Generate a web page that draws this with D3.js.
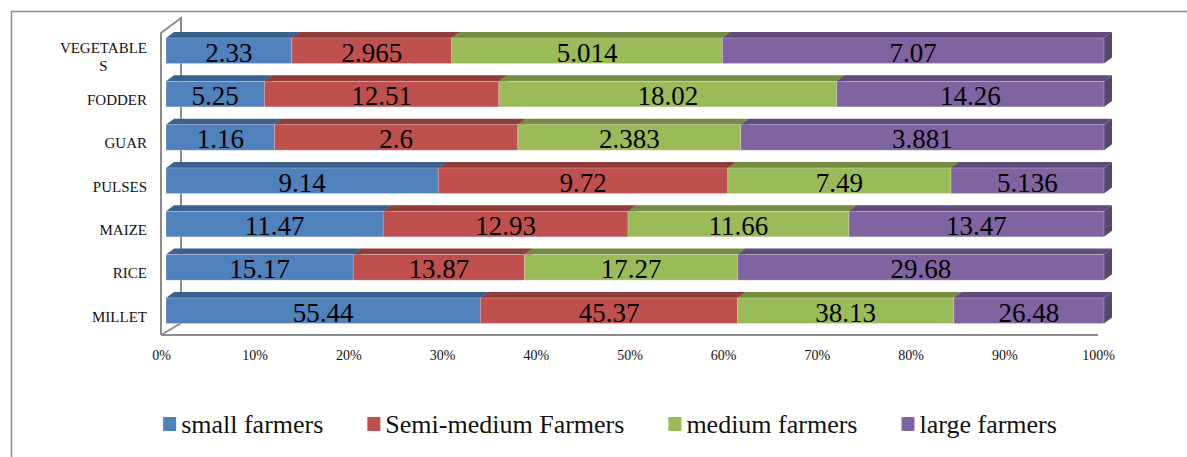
<!DOCTYPE html>
<html>
<head>
<meta charset="utf-8">
<script src="https://cdn.jsdelivr.net/npm/d3@7"></script>
<style>
  html, body { margin: 0; padding: 0; background: #fff; }
  svg { display: block; }
  svg text { font-family: 'Liberation Serif', 'Times New Roman', serif !important; }
</style>
</head>
<body>
<svg id="chart" width="1187" height="457" font-family="Liberation Serif"></svg>
<script>
// 100% stacked 3D-look bar chart: crop area by farmer size class.

const categories = ['VEGETABLES', 'FODDER', 'GUAR', 'PULSES', 'MAIZE', 'RICE', 'MILLET'];
const seriesNames = ['small farmers', 'Semi-medium Farmers', 'medium farmers', 'large farmers'];
const small      = [2.33, 5.25, 1.16, 9.14, 11.47, 15.17, 55.44];
const semiMedium = [2.965, 12.51, 2.6, 9.72, 12.93, 13.87, 45.37];
const medium     = [5.014, 18.02, 2.383, 7.49, 11.66, 17.27, 38.13];
const large      = [7.07, 14.26, 3.881, 5.136, 13.47, 29.68, 26.48];
const tickValues = [0, 0.1, 0.2, 0.3, 0.4, 0.5, 0.6, 0.7, 0.8, 0.9, 1];

const colors = ['#4F81BD', '#C0504D', '#9BBB59', '#8064A2'];
const seriesValues = [small, semiMedium, medium, large];
const FONT = 'Liberation Serif';

const svg = d3.select('#chart');
const DX = 8, DY = 6;      // bar depth offset
const WX = 20, WY = 15;    // wall depth offset

// outer chart border (runs off the right / bottom of the picture)
svg.append('rect')
  .attr('x', 11.5).attr('y', 11.5)
  .attr('width', 1200).attr('height', 500)
  .attr('fill', 'none').attr('stroke', '#8c8c8c').attr('stroke-width', 1.5);

const x = d3.scaleLinear().domain([0, 1]).range([166, 1104]);
const xFloor = d3.scaleLinear().domain([0, 1]).range([161, 1098]);
const y = d3.scaleBand().domain(categories).range([38, 323.5]).paddingInner(0.41).paddingOuter(0);

// wall + floor lines
const wall = svg.append('g').attr('fill', 'none').attr('stroke', '#8c8c8c').attr('stroke-width', 2);
const fl = xFloor(0), fb = 335, ft = 33;
wall.append('path').attr('d', `M${fl},${fb} L${fl},${ft} L${fl + WX},${ft - WY} L${fl + WX},${fb - WY + 3} L${fl},${fb}`);
wall.append('path').attr('d', `M${fl},${fb} L${xFloor(1)},${fb}`);

// stack
const rows = categories.map((c, i) => {
  const vals = seriesValues.map((s) => s[i]);
  const total = d3.sum(vals);
  let acc = 0;
  return vals.map((v, k) => {
    const seg = { cat: c, k, value: v, x0: acc / total, x1: (acc + v) / total };
    acc += v;
    return seg;
  });
});

const bars = svg.append('g');
rows.forEach((segs) => {
  const g = bars.append('g');
  const yy = y(segs[0].cat), h = y.bandwidth();
  segs.forEach((s) => {
    const x0 = x(s.x0), x1 = x(s.x1);
    const c = colors[s.k];
    // side
    g.append('path')
      .attr('d', `M${x1},${yy} L${x1 + DX},${yy - DY} L${x1 + DX},${yy + h - DY} L${x1},${yy + h}Z`)
      .attr('fill', d3.color(c).darker(1.0));
    // top
    g.append('path')
      .attr('d', `M${x0},${yy} L${x0 + DX},${yy - DY} L${x1 + DX},${yy - DY} L${x1},${yy}Z`)
      .attr('fill', d3.color(c).darker(0.8));
    // front
    g.append('rect')
      .attr('x', x0).attr('y', yy)
      .attr('width', x1 - x0).attr('height', h)
      .attr('fill', c)
      .attr('stroke', 'rgba(255,255,255,0.35)').attr('stroke-width', 0.75);
  });
  segs.forEach((s) => {
    g.append('text')
      .attr('x', (x(s.x0) + x(s.x1)) / 2)
      .attr('y', yy + h / 2 + 11)
      .attr('text-anchor', 'middle')
      .attr('font-family', FONT)
      .attr('font-size', 27)
      .attr('fill', '#000')
      .text(s.value);
  });
});

// category labels (wrap long ones like Excel does)
const catG = svg.append('g').attr('font-family', FONT).attr('font-size', 15).attr('fill', '#111');
categories.forEach((c) => {
  const cy = y(c) + y.bandwidth() / 2;
  const lines = c.length > 9 ? [c.slice(0, 9), c.slice(9)] : [c];
  const base = cy + 11 - (lines.length - 1) * 9;
  let firstW = 0;
  lines.forEach((ln, i) => {
    const t = catG.append('text').attr('y', base + i * 18).text(ln);
    if (i === 0) {
      t.attr('x', 147).attr('text-anchor', 'end');
      firstW = t.node().getComputedTextLength();
    } else {
      t.attr('x', 147 - firstW / 2).attr('text-anchor', 'middle');
    }
  });
});

// x axis tick labels
const axis = d3.axisBottom(xFloor).tickValues(tickValues).tickFormat(d3.format('.0%')).tickSize(0).tickPadding(0);
const ax = svg.append('g').attr('transform', 'translate(0,349)').call(axis);
ax.attr('font-family', FONT);
ax.select('.domain').remove();
ax.selectAll('text')
  .attr('font-size', 14).attr('fill', '#111').attr('dy', '0.75em');

// legend
const leg = svg.append('g').attr('font-family', FONT).attr('font-size', 26).attr('fill', '#111');
const items = seriesNames.map((n, i) => {
  const gi = leg.append('g');
  gi.append('rect').attr('width', 13).attr('height', 14).attr('y', -16).attr('fill', colors[i]);
  const t = gi.append('text').attr('x', 18).attr('y', 0).text(n);
  return { gi, w: 18 + t.node().getComputedTextLength() };
});
const gap = 44;
const totalW = d3.sum(items, (d) => d.w) + gap * (items.length - 1);
let lx = 610 - totalW / 2;
items.forEach((it) => {
  it.gi.attr('transform', `translate(${lx},433)`);
  lx += it.w + gap;
});
</script>
</body>
</html>
